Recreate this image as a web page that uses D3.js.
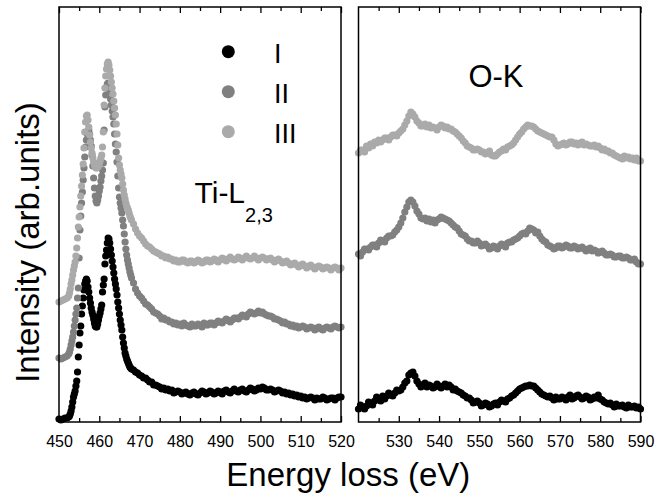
<!DOCTYPE html>
<html>
<head>
<meta charset="utf-8">
<script src="https://cdn.jsdelivr.net/npm/d3@7"></script>
<style>
  body { margin: 0; background: #fff; }
  text { font-family: "Liberation Sans", Arial, sans-serif; }
</style>
</head>
<body>
<svg></svg>
<script>
// series names and colours
const seriesNames = ['I', 'II', 'III']
const seriesColors = ['#000000', '#808080', '#aaaaaa']

// Ti-L2,3 edge (eV)
const tiEnergy = [450, 450.5, 451, 451.5, 452,
  452.4, 452.6, 452.8, 453, 453.2, 453.4, 453.6, 453.8, 454, 454.2,
  454.4, 454.6, 454.8, 455, 455.2, 455.4, 455.6, 455.8, 456, 456.2,
  456.4, 456.6, 456.8, 457, 457.2, 457.4, 457.6, 457.8, 458, 458.2,
  458.4, 458.6, 458.8, 459, 459.2, 459.4, 459.6, 459.8, 460, 460.2,
  460.4, 460.6, 460.8, 461, 461.2, 461.4, 461.6, 461.8, 462, 462.2,
  462.4, 462.6, 462.8, 463, 463.2, 463.4, 463.6, 463.8, 464, 464.2,
  464.4, 464.6, 464.8, 465, 465.2, 465.4, 465.6, 465.8, 466, 466.2,
  466.4, 466.6, 466.8, 467, 467.2, 467.4, 467.6, 467.8, 468,
  468.5, 469, 469.5, 470, 470.5, 471, 471.5, 472, 472.5, 473,
  473.5, 474, 474.5, 475, 475.5, 476, 476.5, 477, 477.5, 478,
  478.5, 479, 479.5, 480, 480.5, 481, 481.5, 482, 482.5, 483,
  483.5, 484, 484.5, 485, 485.5, 486, 486.5, 487, 487.5, 488,
  488.5, 489, 489.5, 490, 490.5, 491, 491.5, 492, 492.5, 493,
  493.5, 494, 494.5, 495, 495.5, 496, 496.5, 497, 497.5, 498,
  498.5, 499, 499.5, 500, 500.5, 501, 501.5, 502, 502.5, 503,
  503.5, 504, 504.5, 505, 505.5, 506, 506.5, 507, 507.5, 508,
  508.5, 509, 509.5, 510, 510.5, 511, 511.5, 512, 512.5, 513,
  513.5, 514, 514.5, 515, 515.5, 516, 516.5, 517, 517.5, 518,
  518.5, 519, 519.5, 520]
const tiI = [3, 2, 3, 4, 4,
  5, 6, 8, 11, 15, 20, 25, 28, 31, 36,
  41, 50, 65, 77, 89, 96, 108, 116, 124, 132,
  138, 141, 143, 141, 135, 130, 124, 119, 114, 110,
  107, 103, 99, 96, 95, 95, 98, 102, 106, 109,
  113, 117, 130, 137, 143, 158, 166, 172, 179, 184,
  183, 179, 173, 167, 161, 155, 149, 143, 138, 133,
  127, 120, 114, 108, 102, 97, 92, 85, 79, 74,
  69, 66, 63, 61, 59, 57, 55, 54, 53,
  52, 50, 49, 47, 46, 44, 44, 42, 40, 40,
  37, 37, 36, 35, 33, 34, 32, 33, 31, 32,
  29, 30, 31, 30, 28, 29, 30, 28, 27, 29,
  30, 28, 27, 29, 31, 30, 28, 29, 31, 30,
  28, 29, 31, 30, 28, 31, 32, 30, 29, 31,
  33, 31, 30, 32, 33, 31, 30, 32, 34, 33,
  31, 32, 34, 33, 35, 34, 32, 32, 33, 32,
  30, 31, 32, 31, 29, 30, 28, 29, 27, 28,
  26, 27, 25, 26, 24, 25, 23, 24, 25, 24,
  22, 24, 23, 23, 25, 24, 22, 23, 24, 24,
  22, 24, 25, 25]
const tiII = [64, 63, 64, 65, 66,
  68, 70, 73, 77, 81, 85, 90, 96, 102, 108,
  114, 124, 134, 164, 192, 206, 219, 230, 242, 254,
  265, 275, 282, 288, 291, 292, 288, 282, 276, 267,
  256, 244, 234, 226, 221, 219, 222, 226, 231, 235,
  241, 246, 252, 259, 292, 315, 327, 334, 338, 339,
  336, 330, 323, 317, 311, 305, 298, 288, 278, 270,
  260, 246, 234, 225, 219, 214, 209, 202, 196, 188,
  180, 173, 167, 162, 158, 154, 150, 147, 144,
  139, 133, 129, 126, 124, 121, 118, 117, 115, 113,
  110, 109, 108, 106, 103, 104, 102, 102, 100, 100,
  98, 99, 97, 98, 96, 99, 97, 96, 95, 98,
  96, 96, 98, 97, 95, 99, 97, 97, 99, 99,
  97, 99, 101, 100, 99, 101, 103, 102, 100, 102,
  104, 104, 103, 105, 107, 106, 105, 108, 110, 109,
  108, 109, 111, 109, 110, 108, 107, 106, 106, 105,
  103, 103, 102, 101, 99, 100, 98, 98, 96, 97,
  95, 96, 94, 95, 96, 95, 93, 94, 95, 94,
  92, 94, 95, 93, 92, 94, 95, 94, 93, 95,
  96, 95, 94, 95]
const tiIII = [120, 121, 122, 123, 124,
  126, 129, 133, 138, 142, 147, 152, 156, 160, 166,
  174, 184, 195, 205, 215, 226, 236, 247, 258, 274,
  290, 300, 306, 307, 302, 295, 287, 280, 274, 269,
  264, 260, 257, 255, 254, 254, 255, 256, 258, 261,
  264, 267, 275, 290, 317, 334, 346, 353, 358, 360,
  357, 352, 346, 340, 334, 328, 321, 314, 307, 298,
  288, 277, 264, 257, 252, 248, 244, 238, 232, 227,
  223, 219, 216, 214, 212, 209, 206, 204, 202,
  198, 193, 189, 186, 184, 181, 178, 176, 175, 173,
  171, 170, 169, 168, 166, 166, 164, 165, 163, 163,
  161, 162, 160, 160, 162, 162, 160, 159, 161, 161,
  159, 160, 162, 161, 159, 160, 162, 162, 160, 161,
  163, 162, 160, 162, 164, 163, 161, 163, 165, 163,
  162, 163, 165, 164, 162, 164, 166, 164, 163, 164,
  166, 164, 162, 164, 165, 164, 162, 163, 164, 162,
  160, 162, 163, 161, 159, 160, 161, 159, 157, 158,
  159, 157, 155, 157, 158, 156, 154, 156, 157, 155,
  153, 155, 156, 155, 153, 154, 155, 154, 152, 154,
  155, 154, 152, 154]

// O-K edge (eV)
const okEnergy = [520, 520.5, 521, 521.5, 522, 522.5, 523, 523.5, 524, 524.5,
  525, 525.5, 526, 526.5, 527, 527.5, 528, 528.5, 529, 529.5,
  530, 530.5, 531, 531.5, 532, 532.5, 533, 533.5, 534, 534.5,
  535, 535.5, 536, 536.5, 537, 537.5, 538, 538.5, 539, 539.5,
  540, 540.5, 541, 541.5, 542, 542.5, 543, 543.5, 544, 544.5,
  545, 545.5, 546, 546.5, 547, 547.5, 548, 548.5, 549, 549.5,
  550, 550.5, 551, 551.5, 552, 552.5, 553, 553.5, 554, 554.5,
  555, 555.5, 556, 556.5, 557, 557.5, 558, 558.5, 559, 559.5,
  560, 560.5, 561, 561.5, 562, 562.5, 563, 563.5, 564, 564.5,
  565, 565.5, 566, 566.5, 567, 567.5, 568, 568.5, 569, 569.5,
  570, 570.5, 571, 571.5, 572, 572.5, 573, 573.5, 574, 574.5,
  575, 575.5, 576, 576.5, 577, 577.5, 578, 578.5, 579, 579.5,
  580, 580.5, 581, 581.5, 582, 582.5, 583, 583.5, 584, 584.5,
  585, 585.5, 586, 586.5, 587, 587.5, 588, 588.5, 589, 589.5,
  590]
const okI = [13, 17, 15, 13, 16, 20, 19, 17, 21, 25,
  23, 21, 26, 23, 26, 29, 27, 26, 29, 32,
  31, 32, 35, 39, 41, 47, 49, 50, 46, 41,
  38, 35, 37, 39, 35, 37, 36, 34, 35, 38,
  36, 34, 36, 38, 35, 37, 35, 32, 33, 31,
  30, 29, 27, 26, 24, 24, 22, 19, 20, 21,
  19, 16, 17, 19, 18, 15, 16, 18, 19, 17,
  20, 22, 21, 20, 23, 24, 26, 27, 29, 31,
  33, 34, 35, 36, 36, 37, 36, 36, 34, 32,
  30, 28, 27, 26, 25, 26, 24, 22, 25, 23,
  23, 25, 24, 22, 25, 27, 23, 24, 26, 27,
  25, 23, 24, 26, 25, 22, 23, 25, 24, 27,
  23, 22, 20, 19, 18, 19, 17, 15, 18, 16,
  16, 17, 15, 14, 17, 15, 15, 16, 14, 15,
  13]
const okII = [168, 166, 170, 173, 173, 172, 175, 177, 177, 175,
  179, 182, 181, 180, 184, 186, 186, 187, 190, 192,
  195, 199, 204, 210, 215, 220, 222, 220, 216, 211,
  208, 204, 203, 204, 201, 203, 200, 202, 199, 202,
  203, 205, 204, 203, 202, 201, 199, 197, 195, 194,
  191, 188, 187, 186, 183, 181, 181, 179, 179, 181,
  179, 176, 177, 178, 176, 173, 174, 176, 175, 173,
  176, 178, 177, 175, 179, 180, 180, 182, 183, 184,
  186, 188, 189, 188, 191, 194, 193, 192, 189, 190,
  186, 183, 181, 180, 177, 176, 175, 173, 174, 176,
  176, 174, 175, 177, 176, 174, 174, 176, 175, 173,
  174, 175, 173, 171, 173, 174, 171, 172, 171, 169,
  170, 171, 169, 167, 167, 168, 167, 165, 165, 166,
  166, 164, 164, 165, 164, 162, 162, 163, 160, 158,
  158]
const okIII = [269, 272, 272, 270, 276, 274, 278, 276, 280, 279,
  282, 280, 282, 284, 284, 282, 285, 287, 287, 286,
  289, 291, 293, 297, 301, 306, 310, 308, 305, 301,
  299, 296, 296, 298, 295, 297, 294, 295, 294, 292,
  295, 297, 296, 294, 295, 293, 293, 291, 290, 288,
  286, 284, 281, 279, 276, 275, 274, 272, 272, 273,
  272, 270, 270, 268, 269, 271, 267, 266, 266, 268,
  270, 271, 273, 272, 275, 276, 277, 279, 282, 285,
  288, 290, 293, 295, 297, 296, 296, 295, 293, 291,
  290, 289, 288, 287, 286, 285, 285, 282, 278, 276,
  277, 278, 279, 277, 278, 280, 280, 278, 279, 277,
  279, 280, 277, 278, 277, 276, 276, 277, 275, 276,
  274, 272, 273, 271, 271, 269, 269, 267, 266, 265,
  264, 263, 266, 264, 265, 263, 264, 262, 264, 261,
  261]

// tick labels
const tiTicks = [450, 460, 470, 480, 490, 500, 510, 520]
const tiMinor = [455, 465, 475, 485, 495, 505, 515]
const okTicks = [530, 540, 550, 560, 570, 580, 590]
const okMinor = [525, 535, 545, 555, 565, 575, 585]

const width = 668
const height = 498
const plotTop = 7
const plotBottom = 422
const font = '"Liberation Sans", Arial, sans-serif'

const svg = d3.select('svg').attr('width', width).attr('height', height)

const y = d3.scaleLinear().domain([0, 415]).range([plotBottom, plotTop])
const xTi = d3.scaleLinear().domain([450, 520]).range([59, 341])
const xO = d3.scaleLinear().domain([520, 590]).range([358.5, 640.5])

function styleAxis(g) {
  g.select('.domain').remove()
  g.selectAll('line').attr('stroke', '#000').attr('stroke-width', 1.3)
  g.selectAll('text').attr('font-family', font).attr('font-size', 16).attr('fill', '#000')
}

// 画一个面板
function drawPanel(x, energy, seriesList, major, minor) {
  const g = svg.append('g')

  seriesList.forEach(function (vals, i) {
    g.append('g').selectAll('circle')
      .data(energy.map(function (e, j) { return [e, vals[j]] }))
      .enter().append('circle')
      .attr('cx', function (d) { return x(d[0]) })
      .attr('cy', function (d) { return y(d[1]) })
      .attr('r', 3.6)
      .attr('fill', seriesColors[i])
  })

  // bottom axis, ticks inward
  g.append('g').attr('transform', `translate(0, ${plotBottom})`)
    .call(d3.axisBottom(x).tickValues(major).tickSizeInner(-6).tickSizeOuter(0).tickPadding(14).tickFormat(d3.format('d')))
    .call(styleAxis)
  g.append('g').attr('transform', `translate(0, ${plotBottom})`)
    .call(d3.axisBottom(x).tickValues(minor).tickSizeInner(-4).tickSizeOuter(0).tickFormat(''))
    .call(styleAxis)

  // top axis, no labels
  g.append('g').attr('transform', `translate(0, ${plotTop})`)
    .call(d3.axisTop(x).tickValues(major).tickSizeInner(-6).tickSizeOuter(0).tickFormat(''))
    .call(styleAxis)
  g.append('g').attr('transform', `translate(0, ${plotTop})`)
    .call(d3.axisTop(x).tickValues(minor).tickSizeInner(-4).tickSizeOuter(0).tickFormat(''))
    .call(styleAxis)

  const [x0, x1] = x.range()
  g.append('rect')
    .attr('x', x0).attr('y', plotTop)
    .attr('width', x1 - x0).attr('height', plotBottom - plotTop)
    .attr('fill', 'none').attr('stroke', '#000').attr('stroke-width', 1.5)
}

drawPanel(xTi, tiEnergy, [tiI, tiII, tiIII], tiTicks, tiMinor)
drawPanel(xO, okEnergy, [okI, okII, okIII], okTicks, okMinor)

// legend
const legend = svg.append('g')
seriesNames.forEach(function (name, i) {
  legend.append('circle').attr('cx', 228.3).attr('cy', 51.7 + i * 40).attr('r', 6.5).attr('fill', seriesColors[i])
  legend.append('text').attr('x', 274).attr('y', 62.7 + i * 40.3).attr('font-size', 27).text(name)
})

// edge labels
const ti = svg.append('text').attr('x', 194.5).attr('y', 203.3).attr('font-size', 30)
ti.append('tspan').text('Ti-L')
ti.append('tspan').attr('font-size', 20).attr('dy', 19).text('2,3')

svg.append('text').attr('x', 496).attr('y', 87).attr('font-size', 31)
  .attr('text-anchor', 'middle').text('O-K')

// axis titles
svg.append('text').attr('x', 348.3).attr('y', 486).attr('font-size', 33)
  .attr('text-anchor', 'middle').text('Energy loss (eV)')

svg.append('text').attr('transform', 'translate(38.5, 242.5) rotate(-90)')
  .attr('font-size', 33).attr('text-anchor', 'middle').text('Intensity (arb.units)')
</script>
</body>
</html>
